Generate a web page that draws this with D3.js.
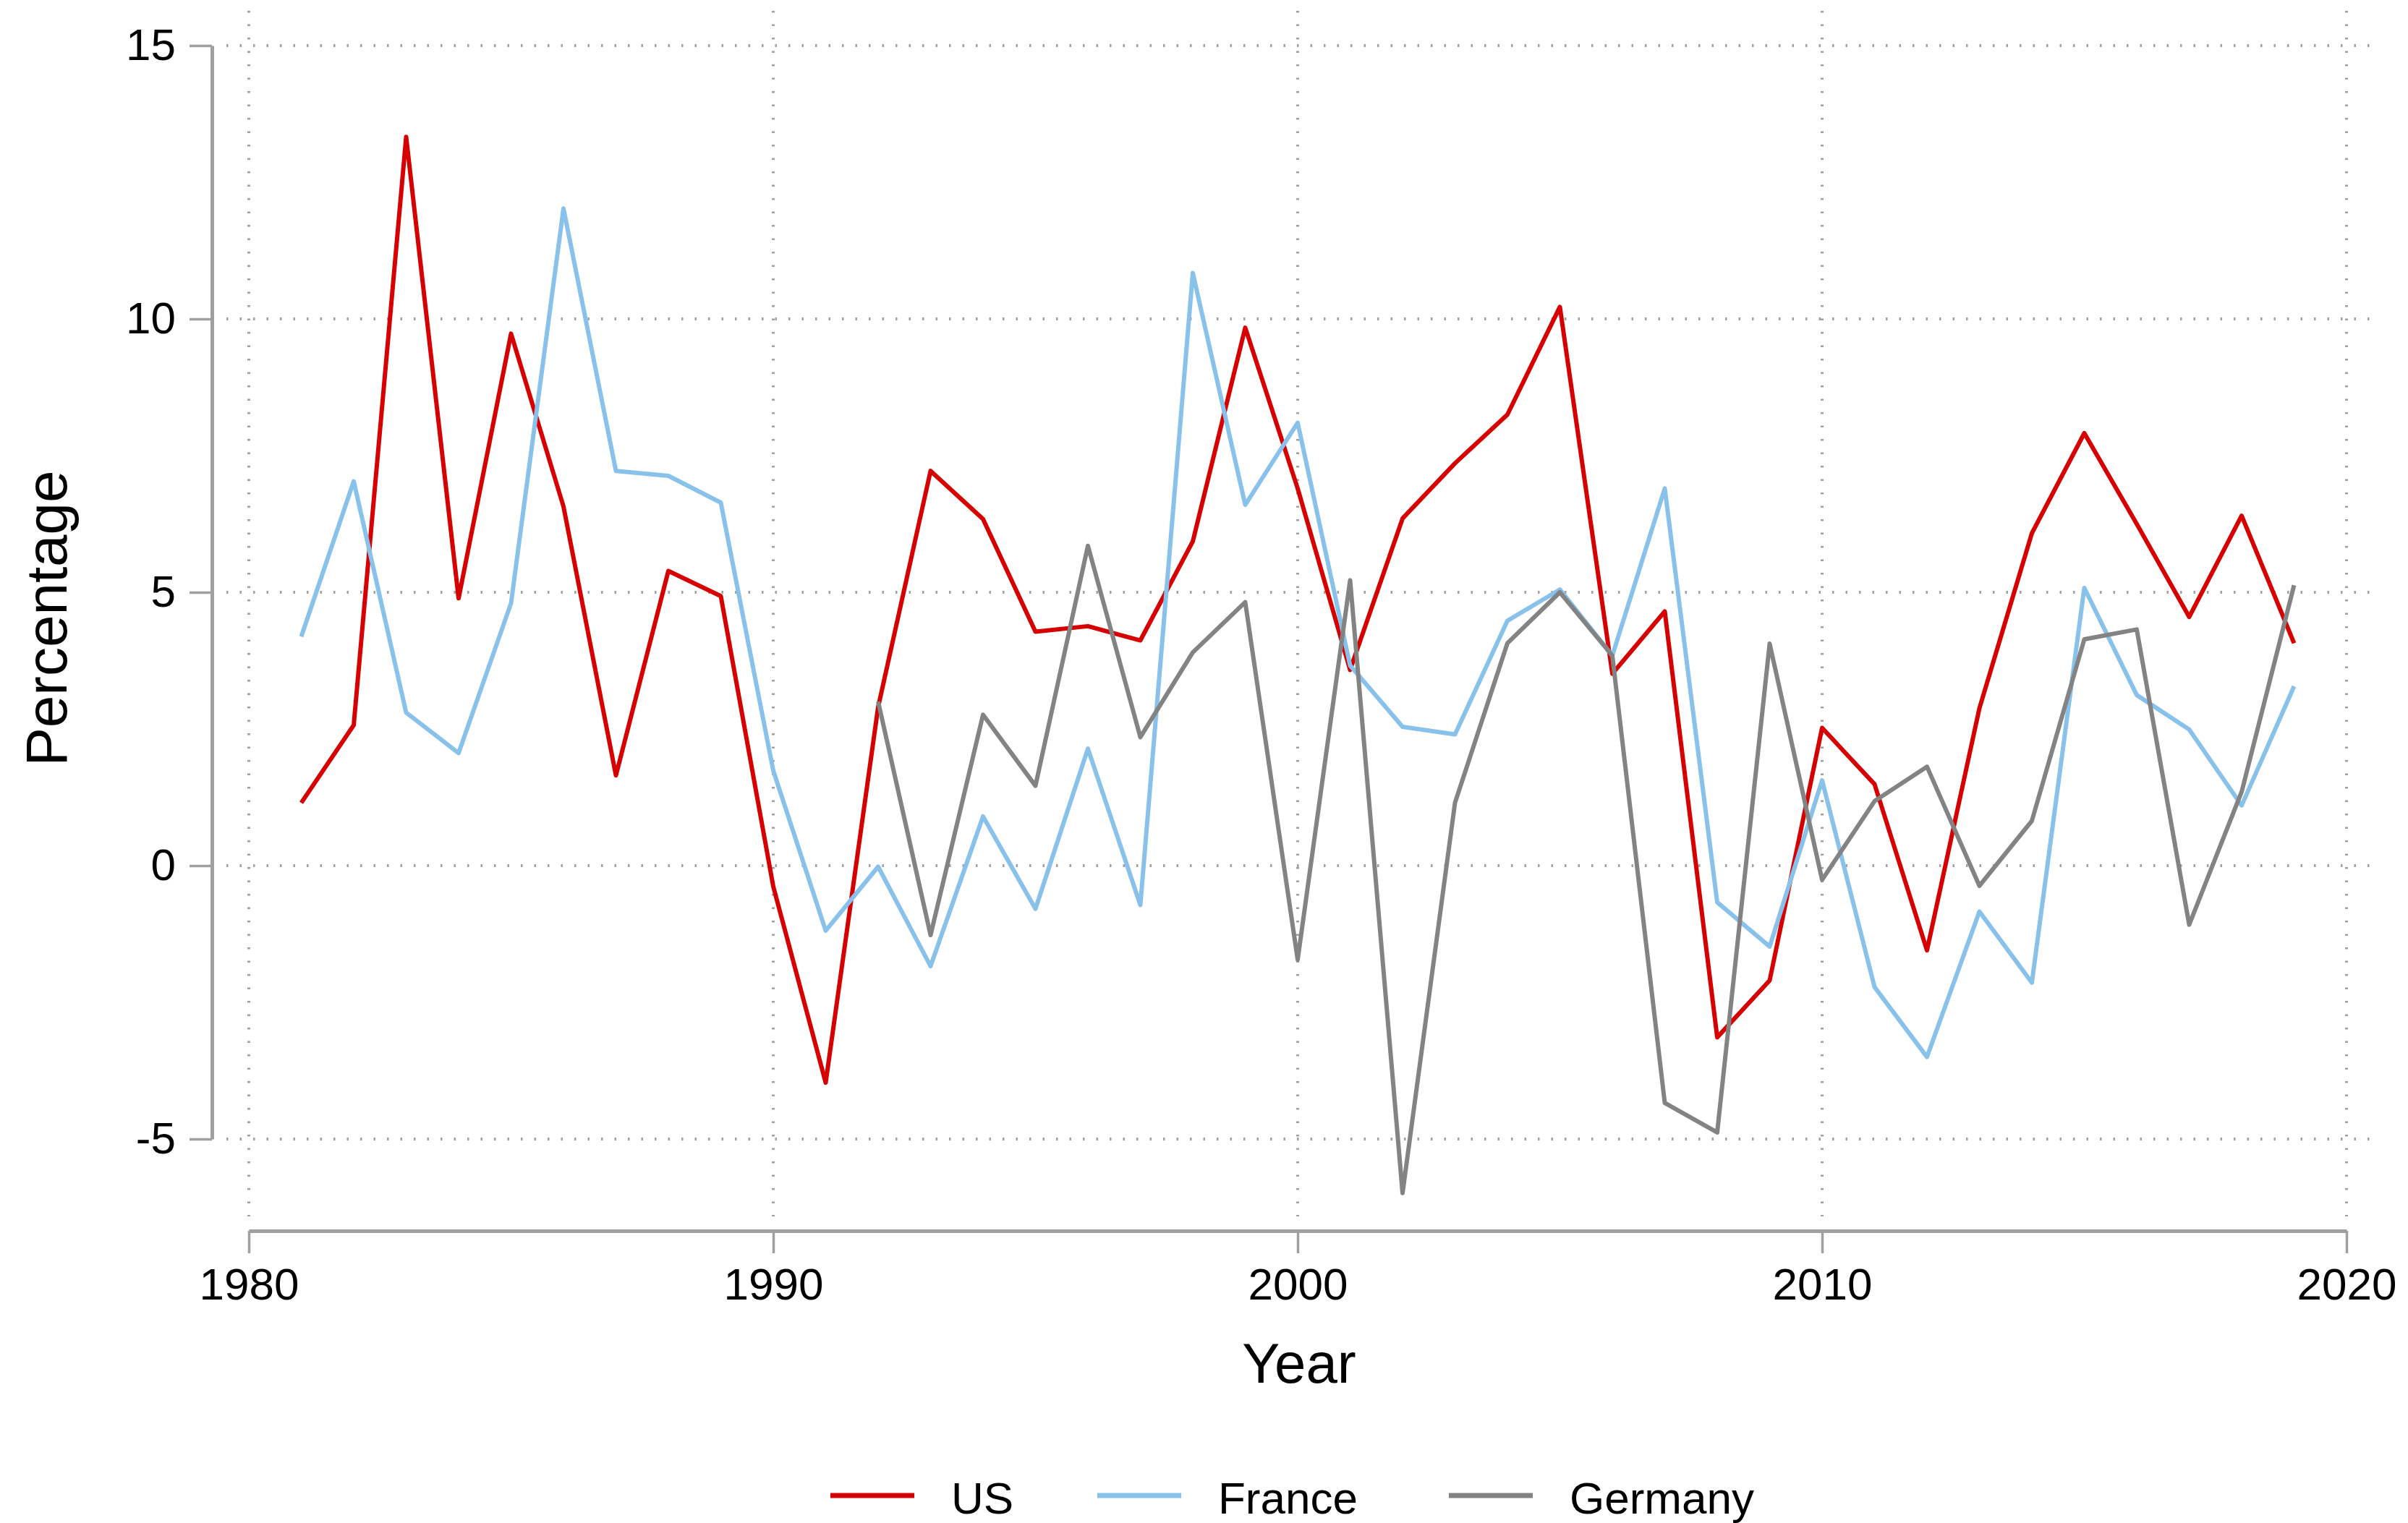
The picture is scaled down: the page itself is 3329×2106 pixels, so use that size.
<!DOCTYPE html>
<html>
<head>
<meta charset="utf-8">
<script src="https://cdn.jsdelivr.net/npm/d3@7"></script>
<style>
  body { margin: 0; background: #fff; }
  svg { display: block; font-family: "Liberation Sans", Arial, Helvetica, sans-serif; }
</style>
</head>
<body>
<svg id="chart" width="3329" height="2106"></svg>
<script>
// growth rates
var years = d3.range(1981, 2020);
var germanyYears = d3.range(1992, 2020);

var usValues = [1.15, 2.57, 13.33, 4.89, 9.73, 6.57, 1.65, 5.39, 4.93, -0.38,
    -3.97, 2.9, 7.22, 6.34, 4.28, 4.38, 4.12, 5.93, 9.84, 6.9,
    3.58, 6.35, 7.36, 8.25, 10.22, 3.51, 4.65, -3.14, -2.1, 2.52,
    1.49, -1.55, 2.88, 6.08, 7.91, 6.25, 4.55, 6.4, 4.07];

var franceValues = [4.19, 7.03, 2.8, 2.06, 4.8, 12.02, 7.22, 7.13, 6.64, 1.74,
    -1.19, -0.02, -1.84, 0.9, -0.79, 2.14, -0.72, 10.84, 6.6, 8.1,
    3.66, 2.54, 2.4, 4.48, 5.05, 3.84, 6.9, -0.67, -1.48, 1.56,
    -2.22, -3.5, -0.84, -2.14, 5.08, 3.12, 2.49, 1.1, 3.28];

var germanyValues = [3.0, -1.27, 2.76, 1.46, 5.85, 2.35, 3.9, 4.82, -1.72, 5.22,
    -5.99, 1.15, 4.07, 5.0, 3.84, -4.34, -4.88, 4.06, -0.26, 1.18,
    1.81, -0.37, 0.82, 4.14, 4.32, -1.08, 1.35, 5.13];

var seriesNames = ["US", "France", "Germany"];
var seriesColors = ["#d60000", "#88c1ea", "#838383"];

var xTicks = [1980, 1990, 2000, 2010, 2020];
var yTicks = [-5, 0, 5, 10, 15];

var svg = d3.select("#chart");
var axisGray = "#a0a0a0";

var x = d3.scaleLinear().domain([1980, 2020]).range([344, 3244]);
var y = d3.scaleLinear().domain([-5, 15]).range([1575, 63]);

// dotted grid
svg.append("g").selectAll("line.h")
    .data(yTicks)
    .enter().append("line")
    .attr("x1", 313)
    .attr("x2", 3290)
    .attr("y1", function (d) { return y(d); })
    .attr("y2", function (d) { return y(d); })
    .attr("stroke", axisGray)
    .attr("stroke-width", 4)
    .attr("stroke-dasharray", "2.5,16");

svg.append("g").selectAll("line.v")
    .data(xTicks)
    .enter().append("line")
    .attr("x1", function (d) { return x(d); })
    .attr("x2", function (d) { return x(d); })
    .attr("y1", 15)
    .attr("y2", 1682)
    .attr("stroke", axisGray)
    .attr("stroke-width", 4)
    .attr("stroke-dasharray", "2.5,16");

// axes (hyphen minus like the original)
var yAxis = svg.append("g")
    .attr("transform", "translate(293,0)")
    .call(d3.axisLeft(y).tickValues(yTicks).tickSize(31).tickSizeOuter(0).tickPadding(19)
        .tickFormat(function (d) { return String(d); }));

var xAxis = svg.append("g")
    .attr("transform", "translate(0,1702)")
    .call(d3.axisBottom(x).tickValues(xTicks).tickSize(31).tickSizeOuter(0).tickPadding(20)
        .tickFormat(d3.format("d")));

[yAxis, xAxis].forEach(function (a) {
    a.select(".domain").attr("stroke", axisGray).attr("stroke-width", 5);
    a.selectAll(".tick line").attr("stroke", axisGray).attr("stroke-width", 3.5);
    a.selectAll(".tick text")
        .attr("fill", "#000")
        .attr("font-size", 62)
        .attr("font-family", "'Liberation Sans', Arial, sans-serif");
});

svg.append("text")
    .attr("transform", "translate(92,855) rotate(-90)")
    .attr("text-anchor", "middle")
    .attr("font-size", 80)
    .text("Percentage");

svg.append("text")
    .attr("x", 1796)
    .attr("y", 1912)
    .attr("text-anchor", "middle")
    .attr("font-size", 78)
    .text("Year");

// series lines
var lineGen = d3.line()
    .x(function (d) { return x(d[0]); })
    .y(function (d) { return y(d[1]); });

var seriesData = [
    d3.zip(years, usValues),
    d3.zip(years, franceValues),
    d3.zip(germanyYears, germanyValues)
];

seriesData.forEach(function (pts, i) {
    svg.append("path")
        .attr("d", lineGen(pts))
        .attr("fill", "none")
        .attr("stroke", seriesColors[i])
        .attr("stroke-width", 6)
        .attr("stroke-linejoin", "round");
});

// legend
var legendX = [1148, 1517, 2003];
var legend = svg.append("g");
seriesNames.forEach(function (name, i) {
    legend.append("line")
        .attr("x1", legendX[i])
        .attr("x2", legendX[i] + 116)
        .attr("y1", 2068)
        .attr("y2", 2068)
        .attr("stroke", seriesColors[i])
        .attr("stroke-width", 7);
    legend.append("text")
        .attr("x", legendX[i] + 167)
        .attr("y", 2093)
        .attr("font-size", 62)
        .text(name);
});
</script>
</body>
</html>
